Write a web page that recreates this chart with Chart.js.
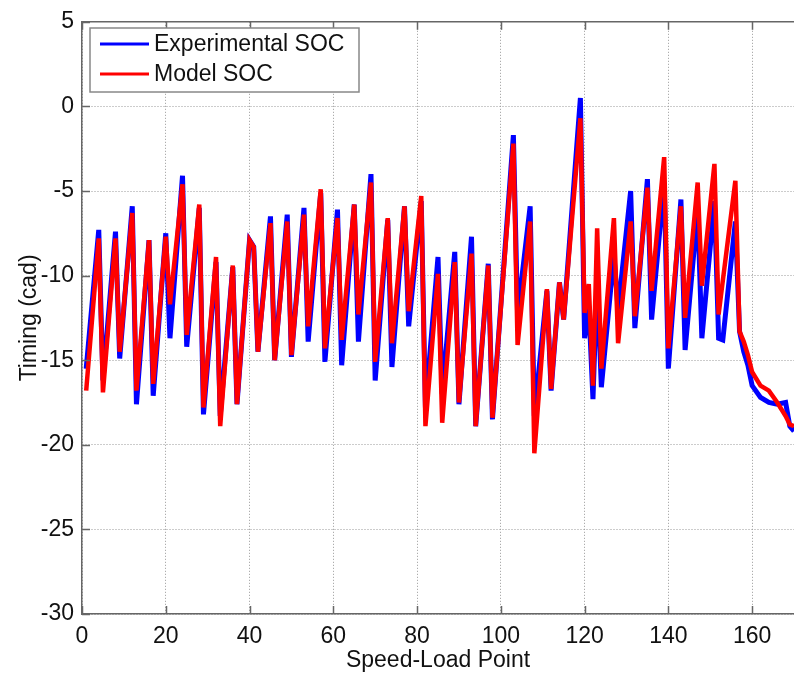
<!DOCTYPE html>
<html>
<head>
<meta charset="utf-8">
<script src="https://cdn.jsdelivr.net/npm/chart.js@4.4.1/dist/chart.umd.min.js"></script>
<style>
html,body{margin:0;padding:0;background:#fff;}
#wrap{width:794px;height:674px;position:relative;}
</style>
</head>
<body>
<div id="wrap"><canvas id="c" width="794" height="674"></canvas></div>
<script>
// Speed-load point positions of the polyline vertices
const speedLoadPoint = [
  1,4,5,8,9,12,13,16,17,20,
  21,24,25,28,29,32,33,36,37,40,
  41,42,45,46,49,50,53,54,57,58,
  61,62,65,66,69,70,73,74,77,78,
  81,82,85,86,89,90,93,94,97,98,
  103,104,107,108,111,112,114,115,119,120,
  121,122,123,124,127,128,131,132,135,136,
  139,140,143,144,147,148,151,152,153,156,
  157,158,159,160,162,164,166,168,169,170
];
const experimentalSOC = [
  -15.5,-7.3,-16.2,-7.4,-14.9,-5.9,-17.6,-7.9,-17.1,-7.5,
  -13.7,-4.1,-14.2,-6.0,-18.2,-9.2,-18.3,-9.5,-17.6,-7.9,
  -8.3,-14.5,-6.5,-15.0,-6.4,-14.8,-6.0,-13.9,-5.1,-15.1,
  -6.1,-15.3,-5.8,-13.9,-4.0,-16.2,-6.7,-15.4,-5.9,-13.0,
  -5.6,-17.8,-8.9,-17.0,-8.6,-17.6,-7.7,-18.9,-9.3,-18.5,
  -1.7,-12.3,-5.9,-18.3,-10.9,-16.8,-10.4,-12.6,0.5,-13.7,
  -11.8,-17.3,-10.0,-16.6,-8.8,-12.0,-5.0,-13.1,-4.3,-12.6,
  -4.5,-15.5,-5.5,-14.4,-6.1,-13.7,-5.6,-13.7,-13.8,-6.8,
  -13.3,-14.5,-15.3,-16.5,-17.2,-17.5,-17.6,-17.5,-18.9,-19.2
];
const modelSOC = [
  -16.8,-7.8,-16.9,-7.8,-14.5,-6.3,-16.8,-7.9,-16.4,-7.7,
  -11.7,-4.6,-13.5,-5.8,-17.8,-8.9,-18.9,-9.4,-17.6,-7.9,
  -8.3,-14.5,-6.9,-15.0,-6.8,-14.7,-6.4,-13.0,-4.9,-14.3,
  -6.6,-13.8,-5.8,-12.3,-4.5,-15.1,-6.6,-14.0,-5.9,-12.1,
  -5.3,-18.9,-9.9,-18.7,-9.2,-17.5,-8.7,-18.9,-9.4,-18.4,
  -2.2,-14.1,-6.8,-20.5,-10.8,-16.7,-10.4,-12.6,-0.7,-12.2,
  -10.5,-16.5,-7.2,-15.5,-6.6,-14.0,-6.8,-12.4,-4.8,-10.9,
  -3.0,-14.3,-5.9,-12.5,-4.5,-10.6,-3.4,-12.3,-10.3,-4.4,
  -13.3,-13.9,-14.7,-15.7,-16.5,-16.8,-17.5,-18.3,-18.8,-18.9
];
const xTickValues = [0,20,40,60,80,100,120,140,160];
const yTickValues = [-30,-25,-20,-15,-10,-5,0,5];
const seriesLabels = ['Experimental SOC','Model SOC'];
const seriesColors = ['#0000ff','#ff0000'];

const FONT = '"Liberation Sans", Arial, sans-serif';
const FS = 23;

const framePlugin = {
  id: 'frame',
  afterDraw(chart) {
    const {ctx, chartArea: a, scales: {x, y}} = chart;
    ctx.save();
    ctx.strokeStyle = '#666';
    ctx.lineWidth = 1.5;
    const seg = (x1, y1, x2, y2) => { ctx.beginPath(); ctx.moveTo(x1, y1); ctx.lineTo(x2, y2); ctx.stroke(); };
    seg(a.left, a.top, a.right, a.top);
    xTickValues.forEach(v => {
      const px = Math.round(x.getPixelForValue(v)) + 0.5;
      seg(px, a.bottom, px, a.bottom - 8);
      seg(px, a.top, px, a.top + 8);
    });
    yTickValues.forEach(v => {
      const py = Math.round(y.getPixelForValue(v)) + 0.5;
      seg(a.left, py, a.left + 8, py);
    });
    // legend
    const lx = 90, ly = 28, lw = 269, lh = 64;
    ctx.fillStyle = '#fff';
    ctx.fillRect(lx, ly, lw, lh);
    ctx.strokeStyle = '#888';
    ctx.lineWidth = 1.5;
    ctx.strokeRect(lx, ly, lw, lh);
    ctx.font = FS + 'px ' + FONT;
    ctx.textBaseline = 'middle';
    ctx.textAlign = 'left';
    seriesLabels.forEach((lab, i) => {
      const cy = ly + 16 + i * 30;
      ctx.strokeStyle = seriesColors[i];
      ctx.lineWidth = 3;
      seg(100, cy, 149, cy);
      ctx.fillStyle = '#111';
      ctx.fillText(lab, 154, cy + 1);
    });
    ctx.restore();
  }
};

const mk = arr => speedLoadPoint.map((sx, i) => ({x: sx, y: arr[i]}));

new Chart(document.getElementById('c'), {
  type: 'line',
  data: {
    datasets: [
      {label: seriesLabels[0], data: mk(experimentalSOC), borderColor: seriesColors[0], borderWidth: 5, pointRadius: 0, tension: 0, order: 2},
      {label: seriesLabels[1], data: mk(modelSOC), borderColor: seriesColors[1], borderWidth: 4.5, pointRadius: 0, tension: 0, order: 1}
    ]
  },
  options: {
    responsive: false,
    animation: false,
    devicePixelRatio: 1,
    layout: {padding: {left: 0, right: 0, top: 17, bottom: 0}},
    plugins: {legend: {display: false}, tooltip: {enabled: false}},
    scales: {
      x: {
        type: 'linear', min: 0, max: 170,
        afterBuildTicks: s => { s.ticks = xTickValues.map(v => ({value: v})); },
        afterFit: s => { s.height = 60; },
        grid: {color: '#999', lineWidth: 1, drawTicks: false},
        border: {color: '#666', width: 1.5, dash: [1, 2]},
        ticks: {padding: 9, color: '#111', font: {family: FONT, size: FS}, maxRotation: 0, autoSkip: false},
        title: {display: true, text: 'Speed-Load Point', color: '#111', font: {family: FONT, size: FS}, padding: {top: 0, bottom: 0}}
      },
      y: {
        type: 'linear', min: -30, max: 5,
        afterBuildTicks: s => { s.ticks = yTickValues.map(v => ({value: v})); },
        afterFit: s => { s.width = 82; },
        grid: {color: '#999', lineWidth: 1, drawTicks: false},
        border: {color: '#666', width: 1.5, dash: [1, 2]},
        ticks: {padding: 8, color: '#111', font: {family: FONT, size: FS}},
        title: {display: true, text: 'Timing (cad)', color: '#111', font: {family: FONT, size: FS}, padding: {top: 16, bottom: 0}}
      }
    }
  },
  plugins: [framePlugin]
});
</script>
</body>
</html>
